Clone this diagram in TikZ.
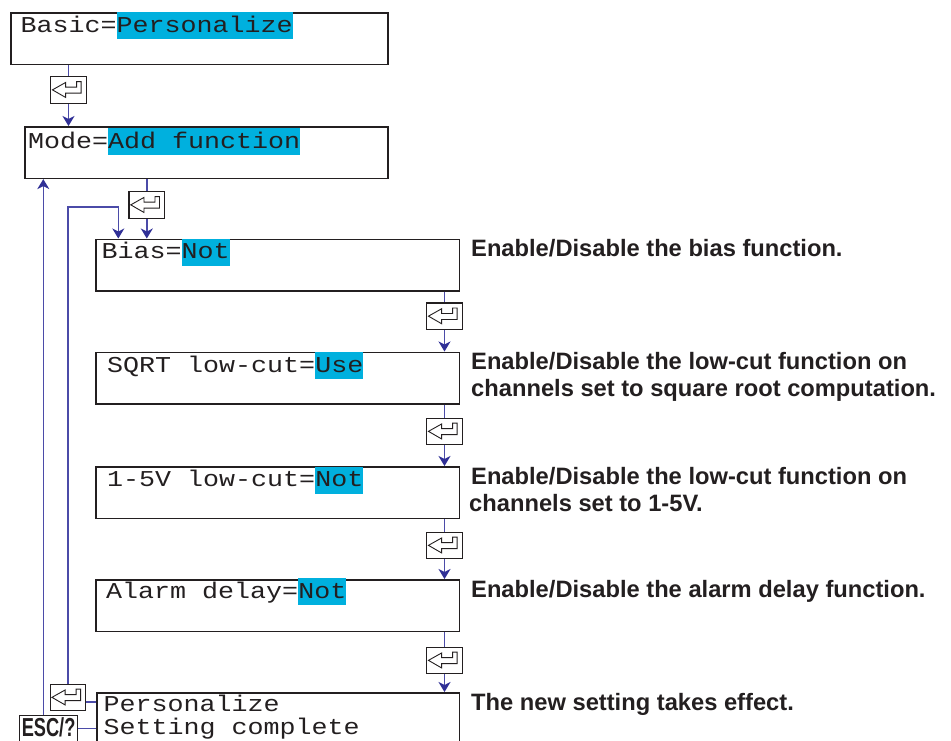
\documentclass[tikz,border=0pt]{standalone}
\usepackage{fontspec}
\usepackage{graphicx}
\usetikzlibrary{arrows.meta,calc}
\newfontfamily\monof{Liberation Mono}
\newfontfamily\descf{Liberation Sans}
\definecolor{hlc}{RGB}{0,176,222}
\definecolor{linec}{RGB}{75,75,168}
\definecolor{tipc}{RGB}{48,48,150}
\definecolor{boxc}{RGB}{35,31,32}
\newcommand{\mt}[1]{\scalebox{1}[0.85]{#1}}
\newcommand{\hlt}[1]{{\setlength{\fboxsep}{0pt}\colorbox{hlc}{\rule[-7pt]{0pt}{27pt}\mt{#1}}}}
\begin{document}
\begin{tikzpicture}[x=1pt,y=-1pt,
  lcd/.style={draw=boxc, line width=1.6pt, minimum width=363.5pt, minimum height=51.5pt, anchor=north west, inner sep=0pt},
  mono/.style={anchor=base west, inner sep=0pt, text=boxc, font=\monof\fontsize{26.67}{30}\selectfont},
  desc/.style={anchor=base west, inner sep=0pt, text=boxc, font=\descf\bfseries\fontsize{23.7}{26}\selectfont},
  keybox/.style={draw=boxc, line width=1.2pt, fill=white, minimum width=35.5pt, minimum height=26.5pt, inner sep=0pt},
  keyarrow/.style={draw=boxc, line width=0.9pt, line join=miter},
  conn/.style={draw=linec, line width=1.4pt},
  arr/.style={conn, -{Stealth[length=10pt,width=12pt,inset=3pt,color=tipc]}}
]
\useasboundingbox (0,0) rectangle (951,740);
\clip (0,0) rectangle (951,740);
% display boxes
\node[lcd, minimum width=377pt] (m1) at (10,12) {};
\node[lcd, minimum width=363pt] (m2) at (24,126) {};
\node[lcd] (m3) at (95,238.5) {};
\node[lcd] (m4) at (95,351.5) {};
\node[lcd] (m5) at (95,466) {};
\node[lcd] (m6) at (95,579) {};
\node[lcd, minimum width=362.5pt, minimum height=70pt] (m7) at (96,692) {};
% display texts
\node[mono] (t1) at (20.5,32) {\mt{Basic=}\hlt{Personalize}};
\node[mono] (t2) at (28,148) {\mt{Mode=}\hlt{Add function}};
\node[mono] (t3) at (101.5,258.5) {\mt{Bias=}\hlt{Not}};
\node[mono] (t4) at (107,372.3) {\mt{SQRT low-cut=}\hlt{Use}};
\node[mono] (t5) at (107,486.7) {\mt{1-5V low-cut=}\hlt{Not}};
\node[mono] (t6) at (106,598.3) {\mt{Alarm delay=}\hlt{Not}};
\node[mono] (t7a) at (103.5,711) {\mt{Personalize}};
\node[mono] (t7b) at (103.5,734) {\mt{Setting complete}};
% descriptions
\node[desc] (d3) at (471,256) {Enable/Disable the bias function.};
\node[desc] (d4a) at (471,369.5) {Enable/Disable the low-cut function on};
\node[desc] (d4b) at (471,396) {channels set to square root computation.};
\node[desc] (d5a) at (471,484.5) {Enable/Disable the low-cut function on};
\node[desc] (d5b) at (469,511) {channels set to 1-5V.};
\node[desc] (d6) at (471,597.5) {Enable/Disable the alarm delay function.};
\node[desc] (d7) at (471,710.5) {The new setting takes effect.};
% keys
\node[keybox] (k1) at (68.5,90) {};
\node[keybox] (k2) at (146.8,205) {};
\node[keybox] (k3) at (444.5,316.3) {};
\node[keybox] (k4) at (444.5,431.5) {};
\node[keybox] (k5) at (444.5,545.5) {};
\node[keybox] (k6) at (444.5,660.5) {};
\node[keybox] (kb) at (68,697.5) {};
\foreach \k in {k1,k2,k3,k4,k5,k6,kb}{
  \draw[keyarrow, shift={(\k.north west)}]
    (2.3,13.7) -- (15.5,6.3) -- (15.5,11) -- (26.5,11) -- (26.5,5.5) -- (31,5.5) -- (31,17) -- (15.5,17) -- (15.5,21.3) -- cycle;
}
\node[draw=boxc, line width=1.2pt, fill=white, minimum width=58pt, minimum height=30pt, inner sep=0pt,
  anchor=north west, text height=19pt, text depth=8pt, text=boxc,
  font=\descf\bfseries\fontsize{26}{28}\selectfont] (esc) at (19,715) {\scalebox{0.7}[1]{ESC/?}};
% connectors
\draw[conn] (k1.north |- m1.south) -- (k1.north);
\draw[arr] (k1.south) -- (k1.south |- m2.north);
\draw[conn] (k2.north |- m2.south) -- (k2.north);
\draw[arr] (k2.south) -- (k2.south |- m3.north);
\foreach \i/\j in {3/4,4/5,5/6,6/7}{
  \draw[conn] (k\i.north |- m\i.south) -- (k\i.north);
  \draw[arr] (k\i.south) -- (k\i.south |- m\j.north);
}
\coordinate (lp) at (118.3,207);
\draw[arr] (kb.north) |- (lp) -- (lp |- m3.north);
\draw[arr] ([xshift=-5.3pt]esc.north) -- ([xshift=-5.3pt]esc.north |- m2.south);
\draw[conn] ([yshift=-4.5pt]kb.east) -- ([yshift=-4.5pt]kb.east -| m7.west);
\draw[conn] ([yshift=2pt]esc.east) -- ([yshift=2pt]esc.east -| m7.west);
\end{tikzpicture}
\end{document}
